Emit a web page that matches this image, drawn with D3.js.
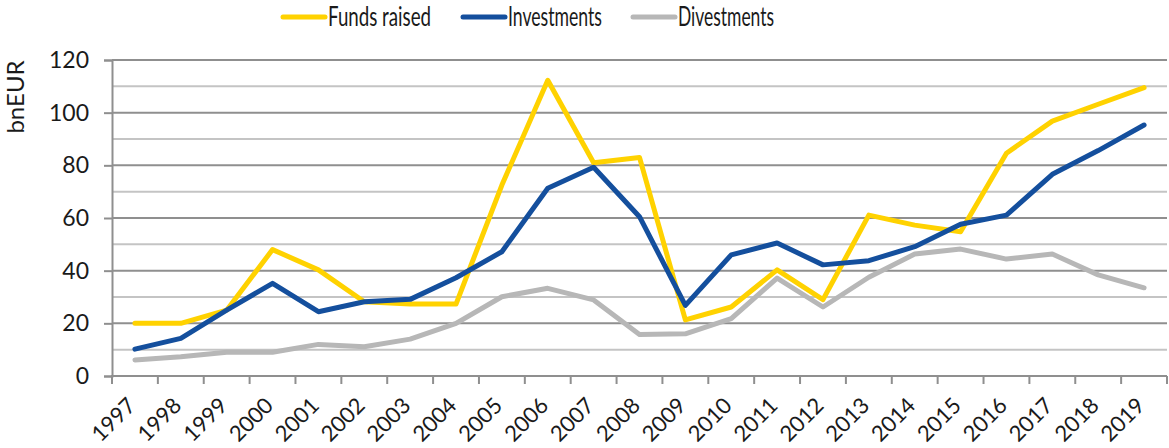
<!DOCTYPE html>
<html>
<head>
<meta charset="utf-8">
<script src="https://cdn.jsdelivr.net/npm/d3@7.9.0/dist/d3.min.js"></script>
<style>
  body { margin: 0; background: #fff; }
  svg { display: block; font-family: Lato, "Open Sans", sans-serif; }
</style>
</head>
<body>
<svg width="1169" height="448"></svg>
<script>
const years = ['1997', '1998', '1999', '2000', '2001', '2002', '2003', '2004', '2005', '2006', '2007', '2008',
    '2009', '2010', '2011', '2012', '2013', '2014', '2015', '2016', '2017', '2018', '2019'];
const fundsRaised = [20, 20, 25, 48, 40.3, 28.2, 27.3, 27.3, 72.5, 112.3, 81, 83, 21.3, 26.2, 40.3, 29, 61.1, 57.3, 54.8, 84.6, 96.8, 103.2, 109.5];
const investments = [10.2, 14.3, 25, 35.2, 24.4, 28.2, 29.1, 37.3, 47.2, 71.3, 79.3, 60.5, 26.8, 46, 50.5, 42.2, 43.8, 49.1, 57.6, 61.1, 76.6, 85.6, 95.3];
const divestments = [6.1, 7.3, 9, 9, 12, 11.1, 14, 20, 30.1, 33.3, 28.9, 15.8, 16, 21.8, 37.2, 26.2, 37.5, 46.3, 48.2, 44.4, 46.3, 38.4, 33.5];
const seriesNames = ['Funds raised', 'Investments', 'Divestments'];
const seriesColors = ['#ffd200', '#144f9d', '#b7b7b7'];
const yTicks = [0, 20, 40, 60, 80, 100, 120];

const svg = d3.select('svg');
const plotLeft = 112, plotRight = 1167, plotTop = 60, plotBottom = 376;

const x = d3.scaleBand().domain(years).range([plotLeft, plotRight]);
const y = d3.scaleLinear().domain([0, 120]).range([plotBottom, plotTop]);

// grid lines every 10, darker on the labelled ones
d3.range(10, 121, 10).forEach((v) => {
    svg.append('line')
        .attr('x1', plotLeft).attr('x2', plotRight)
        .attr('y1', y(v)).attr('y2', y(v))
        .attr('stroke', v % 20 === 0 ? '#8f8f8f' : '#c4c4c4')
        .attr('stroke-width', 2);
});

// y axis
const yAxis = svg.append('g')
    .attr('transform', `translate(${plotLeft},0)`)
    .call(d3.axisLeft(y).tickValues(yTicks).tickSize(8).tickPadding(15));
yAxis.select('.domain').attr('stroke', '#8f8f8f').attr('stroke-width', 2);
yAxis.selectAll('.tick line').attr('stroke', '#8f8f8f').attr('stroke-width', 2);
yAxis.selectAll('.tick text')
    .attr('font-size', 23)
    .attr('font-family', 'Lato, sans-serif')
    .attr('fill', '#1a1a1a');

// x axis: ticks sit between the years
const xAxis = svg.append('g').attr('transform', `translate(0,${plotBottom})`);
xAxis.append('line')
    .attr('x1', plotLeft - 1).attr('x2', plotRight)
    .attr('stroke', '#8f8f8f').attr('stroke-width', 2);
years.concat(['end']).forEach((d, i) => {
    const xx = plotLeft + i * x.bandwidth();
    xAxis.append('line')
        .attr('x1', xx).attr('x2', xx)
        .attr('y1', 0).attr('y2', 8)
        .attr('stroke', '#8f8f8f').attr('stroke-width', 2);
});
years.forEach((d) => {
    const cx = x(d) + x.bandwidth() / 2;
    svg.append('text')
        .attr('transform', `translate(${cx + 2},${plotBottom + 31}) rotate(-45)`)
        .attr('text-anchor', 'end')
        .attr('font-size', 22)
        .attr('fill', '#1a1a1a')
        .text(d);
});

// y axis title
svg.append('text')
    .attr('transform', 'translate(24,97) rotate(-90)')
    .attr('text-anchor', 'middle')
    .attr('font-size', 24)
    .attr('fill', '#1a1a1a')
    .text('bnEUR');

// lines
const line = d3.line()
    .x((d, i) => x(years[i]) + x.bandwidth() / 2)
    .y((d) => y(d));

[divestments, fundsRaised, investments].forEach((values) => {
    const idx = values === fundsRaised ? 0 : values === investments ? 1 : 2;
    svg.append('path')
        .attr('d', line(values))
        .attr('fill', 'none')
        .attr('stroke', seriesColors[idx])
        .attr('stroke-width', 5)
        .attr('stroke-linejoin', 'round')
        .attr('stroke-linecap', 'round');
});

// legend
const legendX = [283, 463, 633];
const legendTextW = [103, 94, 96];
seriesNames.forEach((name, i) => {
    const g = svg.append('g').attr('transform', `translate(${legendX[i]},17)`);
    g.append('line')
        .attr('x1', 0).attr('x2', 42)
        .attr('stroke', seriesColors[i])
        .attr('stroke-width', 5)
        .attr('stroke-linecap', 'round');
    g.append('text')
        .attr('x', 45)
        .attr('y', 9)
        .attr('font-size', 26)
        .attr('fill', '#1a1a1a')
        .attr('textLength', legendTextW[i])
        .attr('lengthAdjust', 'spacingAndGlyphs')
        .text(name);
});
</script>
</body>
</html>
